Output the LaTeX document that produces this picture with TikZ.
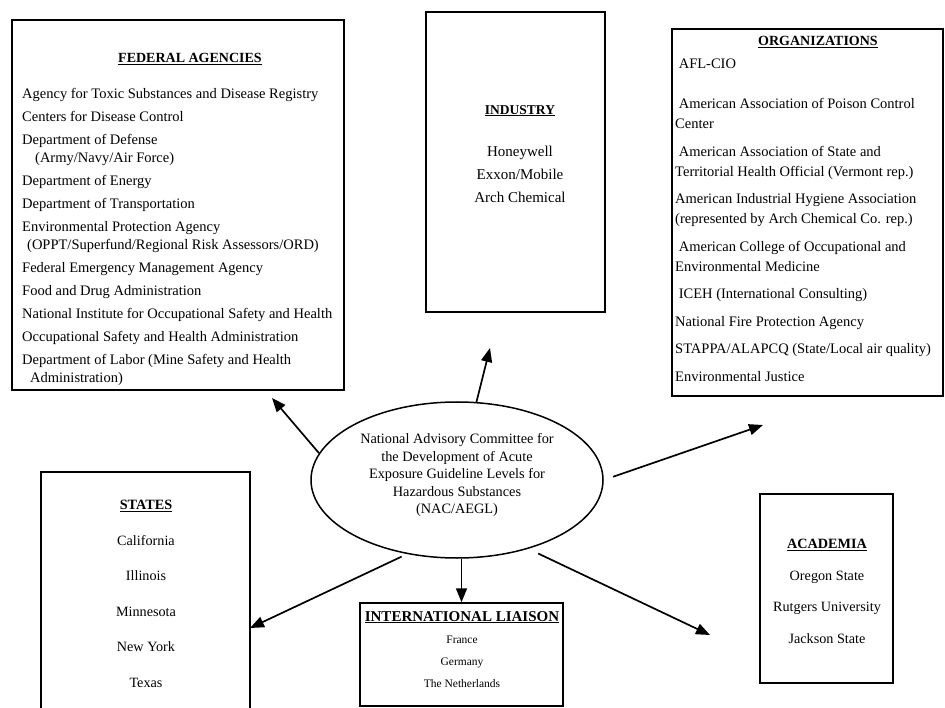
\documentclass[tikz,border=0pt]{standalone}
\usepackage{fontspec}
\setmainfont{Liberation Serif}
\usetikzlibrary{shapes.geometric,arrows.meta}

\tikzset{
  box/.style={draw, line width=1.5pt, inner sep=0pt},
  head/.style={font=\fontsize{14}{17}\selectfont\bfseries, inner sep=0pt},
  itemlist/.style={align=left, inner sep=0pt},
  arr/.style={line width=1.7pt, -{Triangle[length=14pt,width=11pt]}}
}

\begin{document}
\begin{tikzpicture}[x=1pt, y=-1pt]
  \useasboundingbox (0,0) rectangle (945,708);
  \clip (0,0) rectangle (945,708);

  % the committee in the middle
  \node [draw, ellipse, line width=1.5pt, minimum width=292pt, minimum height=156pt, align=center,
         font=\fontsize{14.3}{17.5}\selectfont] (nac) at (457,480)
        {National Advisory Committee for\\the Development of Acute\\Exposure Guideline Levels for\\Hazardous Substances\\(NAC/AEGL)\\[-5pt]};

  % federal agencies
  \node [box, minimum width=332pt, minimum height=370pt] (fed) at (178,205) {};
  \node [head] (fedhead) at (190,59) {\underline{FEDERAL AGENCIES}};
  \node [itemlist, anchor=north west, font=\fontsize{14.5}{18}\selectfont] (fedlist) at (22,88)
        {Agency for Toxic Substances and Disease Registry\\[5pt]
         Centers for Disease Control\\[5pt]
         Department of Defense\\
         \hspace*{13pt}(Army/Navy/Air Force)\\[5pt]
         Department of Energy\\[5pt]
         Department of Transportation\\[5pt]
         Environmental Protection Agency\\
         \hspace*{5pt}(OPPT/Superfund/Regional Risk Assessors/ORD)\\[5pt]
         Federal Emergency Management Agency\\[5pt]
         Food and Drug Administration\\[5pt]
         National Institute for Occupational Safety and Health\\[5pt]
         Occupational Safety and Health Administration\\[5pt]
         Department of Labor (Mine Safety and Health\\
         \hspace*{8pt}Administration)};

  % industry
  \node [box, minimum width=179pt, minimum height=300pt] (ind) at (515.5,162) {};
  \node [align=center, inner sep=0pt, anchor=north, font=\fontsize{15}{23}\selectfont] (indlist) at (520,105)
        {{\bfseries\fontsize{13.5}{23}\selectfont\underline{INDUSTRY}}\\[19pt]
         Honeywell\\Exxon/Mobile\\Arch Chemical};

  % organizations
  \node [box, minimum width=271pt, minimum height=367pt] (org) at (807.5,212.5) {};
  \node [head] (orghead) at (818,42) {\underline{ORGANIZATIONS}};
  \node [itemlist, anchor=north west, font=\fontsize{14.5}{20}\selectfont] (orglist) at (675,59)
        {\ AFL-CIO\\[20pt]
         \ American Association of Poison Control\\
         Center\\[7.5pt]
         \ American Association of State and\\
         Territorial Health Official (Vermont rep.)\\[7.5pt]
         American Industrial Hygiene Association\\
         (represented by Arch Chemical Co. rep.)\\[7.5pt]
         \ American College of Occupational and\\
         Environmental Medicine\\[7.5pt]
         \ ICEH (International Consulting)\\[7.5pt]
         National Fire Protection Agency\\[7.5pt]
         STAPPA/ALAPCQ (State/Local air quality)\\[7.5pt]
         Environmental Justice};

  % states
  \node [box, minimum width=209pt, minimum height=250pt] (states) at (145.5,597) {};
  \node [align=center, inner sep=0pt, anchor=north, font=\fontsize{14.2}{35.5}\selectfont] (statelist) at (146,500)
        {{\bfseries\underline{STATES}}\\California\\Illinois\\Minnesota\\New York\\Texas};

  % international liaison
  \node [box, minimum width=203pt, minimum height=103pt] (intl) at (461.5,654.5) {};
  \node [align=center, inner sep=0pt, anchor=north, font=\fontsize{11.5}{22}\selectfont] (intllist) at (462,611)
        {{\bfseries\fontsize{15}{22}\selectfont\underline{INTERNATIONAL LIAISON}}\\France\\Germany\\The Netherlands};

  % academia
  \node [box, minimum width=133pt, minimum height=189pt] (acad) at (826.5,588.5) {};
  \node [align=center, inner sep=0pt, anchor=north, font=\fontsize{14.2}{31.5}\selectfont] (acadlist) at (827,539)
        {{\bfseries\underline{ACADEMIA}}\\Oregon State\\Rutgers University\\Jackson State};

  % arrow ends
  \coordinate (fedtip) at (272,398);
  \coordinate (indtip) at (490,348);
  \coordinate (orgtip) at (763,425);
  \coordinate (statetip) at (250,628);
  \coordinate (acadtip) at (710,635);

  \draw [arr] (nac.169) -- (fedtip);
  \draw [arr] (nac.76) -- (indtip);
  \draw [arr, shorten <=10pt] (nac.east) -- (orgtip);
  \draw [arr, shorten <=6pt] (nac.236) -- (statetip);
  \draw [arr] (nac.south -| intl.north) -- (intl.north);
  \draw [arr, shorten <=11pt] (nac.316) -- (acadtip);
\end{tikzpicture}
\end{document}
